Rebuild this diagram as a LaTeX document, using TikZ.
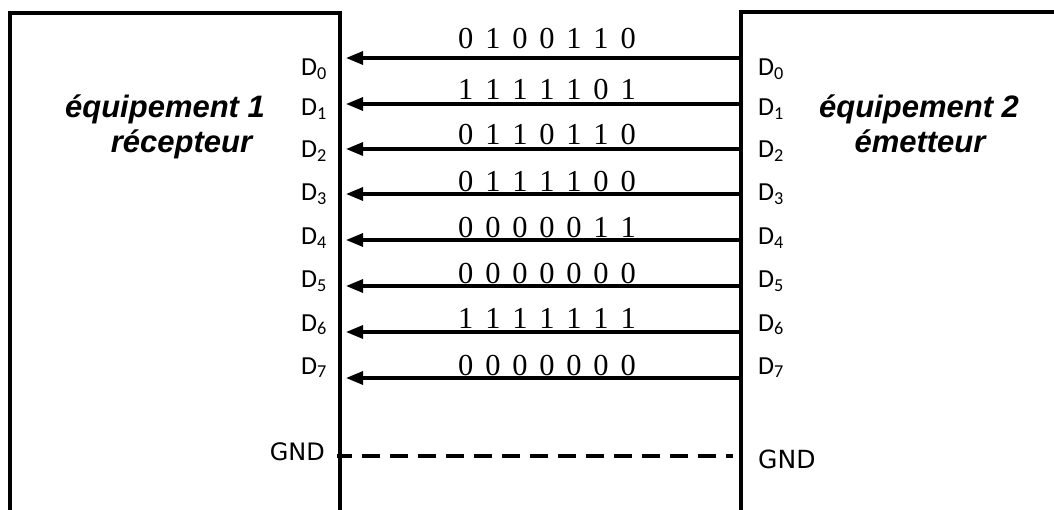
\documentclass[tikz,border=0pt]{standalone}
\usepackage{fontspec}
\setmainfont{Liberation Serif}
\newfontfamily\carl{Carlito}
\newfontfamily\arb{Liberation Sans}
\newfontfamily\dvs{DejaVu Sans}
\usetikzlibrary{arrows.meta}
\begin{document}
\begin{tikzpicture}[x=1pt,y=-1pt,
  box/.style={line width=3.2pt},
  sig/.style={line width=3.2pt,-{Triangle[length=17pt,width=13pt]}},
  bits/.style={anchor=base,inner sep=0pt,font={\fontsize{30.5}{30}\selectfont\spaceskip=11.8pt\relax}},
  dlabl/.style={anchor=base east,inner sep=0pt,font=\carl\fontsize{26}{26}\selectfont},
  dlabr/.style={anchor=base west,inner sep=0pt,font=\carl\fontsize{26}{26}\selectfont},
  title/.style={anchor=base,inner sep=0pt,font=\arb\bfseries\itshape\fontsize{31}{31}\selectfont},
  gnd/.style={inner sep=0pt,font=\dvs\fontsize{24}{24}\selectfont},
  ground/.style={line width=3.2pt,dash pattern=on 18pt off 10pt,dash phase=3pt}]
\useasboundingbox (0,0) rectangle (1054,510);
\fill[white] (0,0) rectangle (1054,510);

% boxes (open at the bottom / right)
\draw[box] (10,512) -- (10,13) -- (340,13) -- (340,512);
\draw[box] (1056,12) -- (741,12) -- (741,512);

% titles
\node[title] (t1a) at (165,118) {équipement 1};
\node[title] (t1b) at (181.5,153) {récepteur};
\node[title] (t2a) at (919,118) {équipement 2};
\node[title] (t2b) at (920,153) {émetteur};

% signal lines
\foreach \k/\y/\by/\ly/\b in {
  0/58/49/76/0 1 0 0 1 1 0,
  1/104/100/116/1 1 1 1 1 0 1,
  2/149/145/158/0 1 1 0 1 1 0,
  3/194/192/201/0 1 1 1 1 0 0,
  4/240/238/245/0 0 0 0 0 1 1,
  5/286/284/288/0 0 0 0 0 0 0,
  6/332/328/331/1 1 1 1 1 1 1,
  7/378/375/374/0 0 0 0 0 0 0}{
  \coordinate (r\k) at (739,\y);
  \coordinate (l\k) at (346,\y);
  \draw[sig] (r\k) -- (l\k);
  \node[bits] (b\k) at (547,\by) {\b};
  \node[dlabl] (dl\k) at (327,\ly) {D\textsubscript{\k}};
  \node[dlabr] (dr\k) at (758,\ly) {D\textsubscript{\k}};
}

% ground
\node[gnd,anchor=base east] (gl) at (325,460) {GND};
\node[gnd,anchor=base west,font=\dvs\fontsize{25}{25}\selectfont] (gr) at (758,468) {GND};
\coordinate (g1) at (337,456);
\coordinate (g2) at (733,456);
\draw[ground] (g1) -- (g2);
\end{tikzpicture}
\end{document}
